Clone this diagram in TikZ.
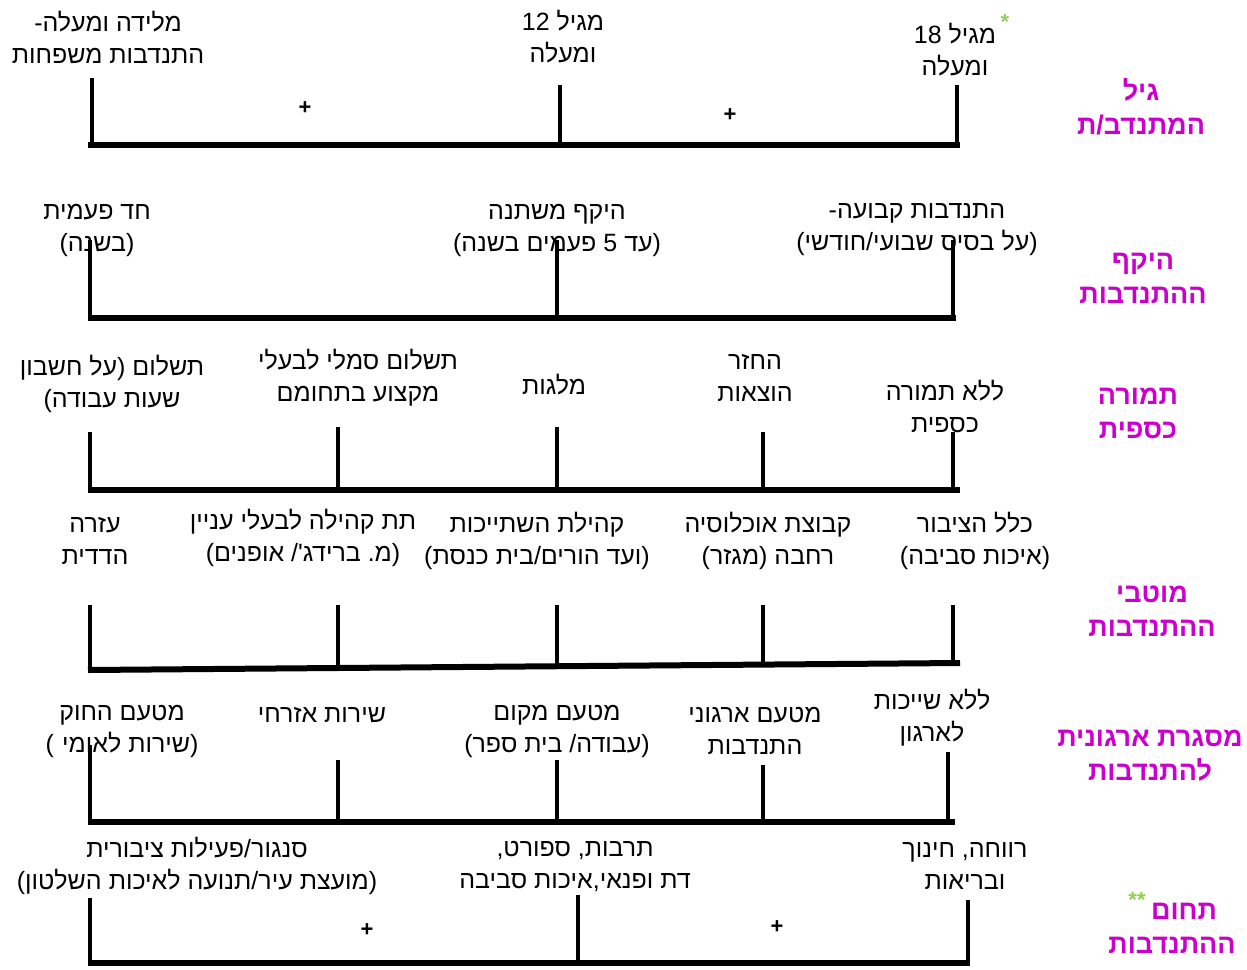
\documentclass[tikz,border=0pt]{standalone}
\usepackage{fontspec}
\usepackage{tikz}
\newfontfamily\hebfont[Script=Hebrew]{Liberation Sans}
\TeXXeTstate=1
\frenchspacing
\definecolor{catpink}{RGB}{204,0,204}
\definecolor{astgreen}{RGB}{146,208,80}
\newcommand{\heb}[1]{\beginR #1\endR}
\tikzset{
  lbl/.style={font=\hebfont\fontsize{25}{32}\selectfont, align=center, inner sep=0pt},
  cat/.style={font=\hebfont\bfseries\fontsize{27}{34}\selectfont, text=catpink, align=center, inner sep=0pt},
  ast/.style={font=\hebfont\bfseries\fontsize{22}{26}\selectfont, text=astgreen, inner sep=0pt},
  pls/.style={font=\hebfont\bfseries\fontsize{22}{26}\selectfont, inner sep=0pt},
  axis/.style={line width=6pt},
  tick/.style={line width=4pt}
}
\begin{document}
\begin{tikzpicture}[x=1pt, y=-1pt]
        \useasboundingbox (0,0) rectangle (1247,969);
        % gil
        \node[lbl] (g1) at (108,37) {\heb{מלידה ומעלה-}\\\heb{התנדבות משפחות}};
        \node[lbl] (g2) at (563,37) {\heb{מגיל 12}\\\heb{ומעלה}};
        \node[lbl] (g3) at (955,50) {\heb{מגיל 18}\\\heb{ומעלה}};
        \node[ast] (g3s) at (1005,22) {*};
        \node[pls] (gp1) at (305,108) {+};
        \node[pls] (gp2) at (730,115) {+};
        \node[cat] (gc) at (1141,107) {\heb{גיל}\\\heb{המתנדב/ת}};
        \coordinate (ga) at (88,145);
        \coordinate (gb) at (960,145);
        \coordinate (gt1) at (92,78);
        \coordinate (gt2) at (560,85);
        \coordinate (gt3) at (957,85);
        \draw[axis] (ga) -- (gb);
        \draw[tick] (gt1) -- (gt1 |- ga);
        \draw[tick] (gt2) -- (gt2 |- ga);
        \draw[tick] (gt3) -- (gt3 |- ga);
        % hekef
        \node[lbl] (h1) at (97,230) {\heb{חד פעמית}\\\heb{(בשנה)}};
        \node[lbl] (h2) at (557,230) {\heb{היקף משתנה}\\\heb{(עד 5 פעמים בשנה)}};
        \node[lbl] (h3) at (917,230) {\heb{התנדבות קבועה-}\\\heb{(על בסיס שבועי/חודשי)}};
        \node[cat] (hc) at (1143,278) {\heb{היקף}\\\heb{ההתנדבות}};
        \coordinate (ha) at (88,318);
        \coordinate (hb) at (956,318);
        \coordinate (ht1) at (90,240);
        \coordinate (ht2) at (557,240);
        \coordinate (ht3) at (953,240);
        \draw[axis] (ha) -- (hb);
        \draw[tick] (ht1) -- (ht1 |- ha);
        \draw[tick] (ht2) -- (ht2 |- ha);
        \draw[tick] (ht3) -- (ht3 |- ha);
        % tmura
        \node[lbl] (t1) at (112,384) {\heb{תשלום (על חשבון}\\\heb{שעות עבודה)}};
        \node[lbl] (t2) at (358,378) {\heb{תשלום סמלי לבעלי}\\\heb{מקצוע בתחומם}};
        \node[lbl] (t3) at (554,385) {\heb{מלגות}};
        \node[lbl] (t4) at (755,378) {\heb{החזר}\\\heb{הוצאות}};
        \node[lbl] (t5) at (945,406) {\heb{ללא תמורה}\\\heb{כספית}};
        \node[cat] (tc) at (1138,413) {\heb{תמורה}\\\heb{כספית}};
        \coordinate (ta) at (88,490);
        \coordinate (tb) at (960,490);
        \coordinate (tt1) at (90,432);
        \coordinate (tt2) at (338,427);
        \coordinate (tt3) at (557,427);
        \coordinate (tt4) at (763,432);
        \coordinate (tt5) at (953,432);
        \draw[axis] (ta) -- (tb);
        \draw[tick] (tt1) -- (tt1 |- ta);
        \draw[tick] (tt2) -- (tt2 |- ta);
        \draw[tick] (tt3) -- (tt3 |- ta);
        \draw[tick] (tt4) -- (tt4 |- ta);
        \draw[tick] (tt5) -- (tt5 |- ta);
        % mutavim
        \node[lbl] (m1) at (95,541) {\heb{עזרה}\\\heb{הדדית}};
        \node[lbl] (m2) at (303,538) {\heb{תת קהילה לבעלי עניין}\\\heb{(מ. ברידג'/ אופנים)}};
        \node[lbl] (m3) at (537,541) {\heb{קהילת השתייכות}\\\heb{(ועד הורים/בית כנסת)}};
        \node[lbl] (m4) at (768,541) {\heb{קבוצת אוכלוסיה}\\\heb{רחבה (מגזר)}};
        \node[lbl] (m5) at (975,541) {\heb{כלל הציבור}\\\heb{(איכות סביבה)}};
        \node[cat] (mc) at (1152,611) {\heb{מוטבי}\\\heb{ההתנדבות}};
        \coordinate (ma) at (88,670);
        \coordinate (mb) at (960,663);
        \coordinate (mt1) at (90,605);
        \coordinate (mt2) at (338,605);
        \coordinate (mt3) at (557,605);
        \coordinate (mt4) at (763,605);
        \coordinate (mt5) at (953,605);
        \draw[axis] (ma) -- (mb);
        \draw[tick] (mt1) -- ++(0,64);
        \draw[tick] (mt2) -- ++(0,62);
        \draw[tick] (mt3) -- ++(0,61);
        \draw[tick] (mt4) -- ++(0,59);
        \draw[tick] (mt5) -- ++(0,58);
        % misgeret
        \node[lbl] (s1) at (122,731) {\heb{מטעם החוק}\\\heb{(שירות לאומי\,\,)}};
        \node[lbl] (s2) at (322,715) {\heb{שירות אזרחי}};
        \node[lbl] (s3) at (557,731) {\heb{מטעם מקום}\\\heb{(עבודה/ בית ספר)}};
        \node[lbl] (s4) at (755,731) {\heb{מטעם ארגוני}\\\heb{התנדבות}};
        \node[lbl] (s5) at (932,718) {\heb{ללא שייכות}\\\heb{לארגון}};
        \node[cat] (sc) at (1150,756) {\heb{מסגרת ארגונית}\\\heb{להתנדבות}};
        \coordinate (sa) at (88,822);
        \coordinate (sb) at (955,822);
        \coordinate (st1) at (90,745);
        \coordinate (st2) at (338,760);
        \coordinate (st3) at (557,760);
        \coordinate (st4) at (763,765);
        \coordinate (st5) at (948,752);
        \draw[axis] (sa) -- (sb);
        \draw[tick] (st1) -- (st1 |- sa);
        \draw[tick] (st2) -- (st2 |- sa);
        \draw[tick] (st3) -- (st3 |- sa);
        \draw[tick] (st4) -- (st4 |- sa);
        \draw[tick] (st5) -- (st5 |- sa);
        % tchum
        \node[lbl] (c1) at (197,866) {\heb{סנגור/פעילות ציבורית}\\\heb{(מועצת עיר/תנועה לאיכות השלטון)}};
        \node[lbl] (c2) at (575,866) {\heb{תרבות, ספורט,}\\\heb{דת ופנאי,איכות סביבה}};
        \node[lbl] (c3) at (965,866) {\heb{רווחה, חינוך}\\\heb{ובריאות}};
        \node[pls] (cp1) at (367,930) {+};
        \node[pls] (cp2) at (777,927) {+};
        \node[cat] (cc) at (1172,928) {\heb{תחום\hspace{24pt}}\\\heb{ההתנדבות}};
        \node[ast] (ccs) at (1137,900) {**};
        \coordinate (ca) at (88,963);
        \coordinate (cb) at (970,963);
        \coordinate (ct1) at (90,898);
        \coordinate (ct2) at (578,895);
        \coordinate (ct3) at (968,900);
        \draw[axis] (ca) -- (cb);
        \draw[tick] (ct1) -- (ct1 |- ca);
        \draw[tick] (ct2) -- (ct2 |- ca);
        \draw[tick] (ct3) -- (ct3 |- ca);
    \end{tikzpicture}
\end{document}
